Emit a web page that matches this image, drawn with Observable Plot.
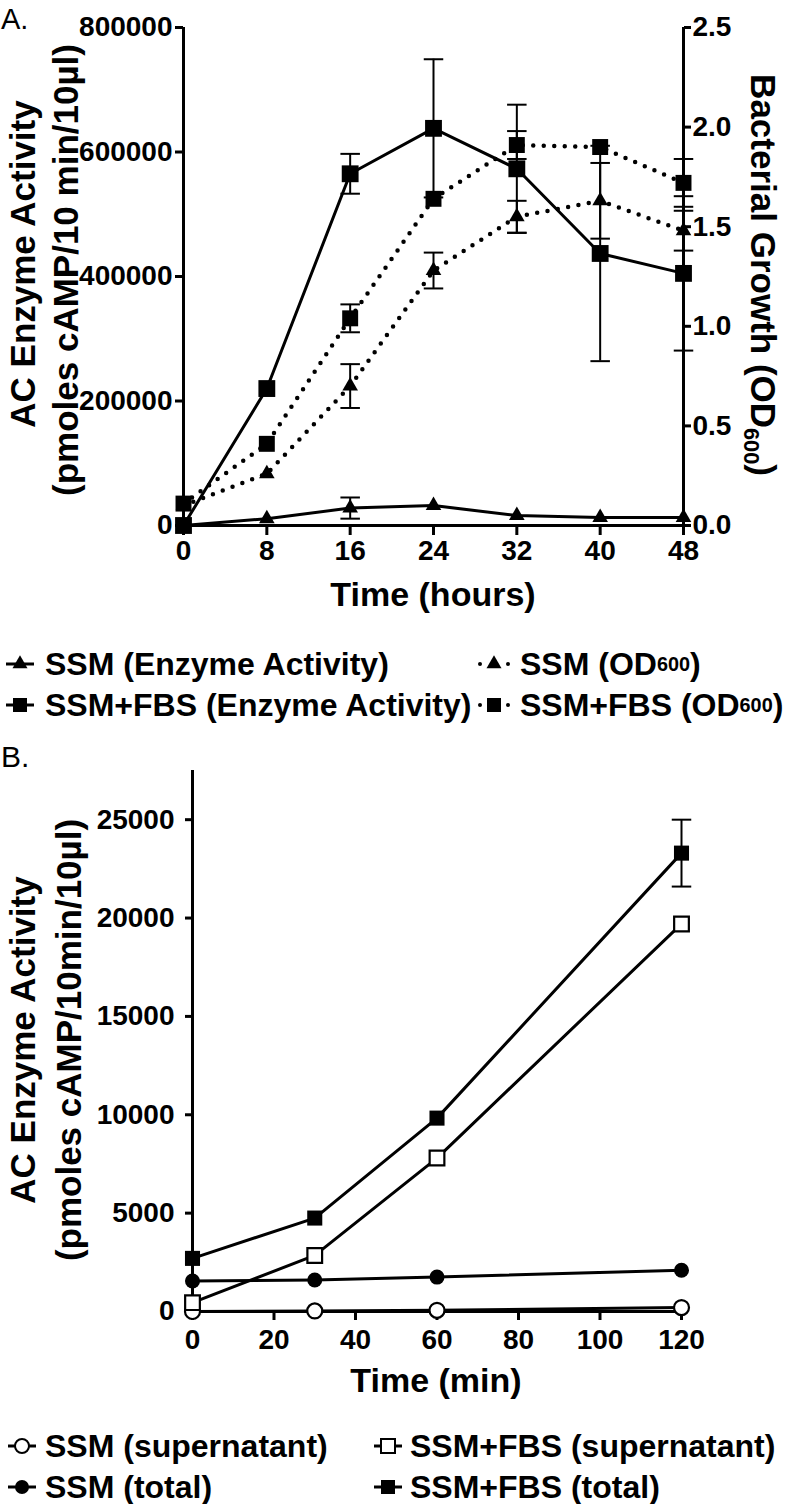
<!DOCTYPE html>
<html>
<head>
<meta charset="utf-8">
<script src="https://cdn.jsdelivr.net/npm/d3@7"></script>
<script src="https://cdn.jsdelivr.net/npm/@observablehq/plot@0.6"></script>
<style>
  html, body { margin: 0; padding: 0; background: white; }
  #root { position: relative; width: 800px; height: 1504px; overflow: hidden; background: white;
          font-family: "Liberation Sans", Arial, Helvetica, sans-serif; color: black; }
  .abs { position: absolute; white-space: nowrap; line-height: 1; }
  .rot { transform: translate(-50%, -50%) rotate(-90deg); font-weight: bold; font-size: 35px; }
  .rotR { transform: translate(-50%, -50%) rotate(90deg); font-weight: bold; font-size: 35px; }
  .ctr { transform: translate(-50%, -50%); font-weight: bold; font-size: 34px; }
  .leg { display: flex; align-items: center; font-weight: bold; font-size: 32px; transform: translateY(-50%); }
  .leg svg { display: block; margin-right: 0; }
  sub { font-size: 0.62em; vertical-align: -0.3em; line-height: 0; }
  .plotbox { position: absolute; left: 0; }
</style>
</head>
<body>
<div id="root"></div>
<script>
// ---------- Panel A data ----------
const hoursA = [0, 8, 16, 24, 32, 40, 48];
const ssmEnzyme    = [0, 11000, 28000, 32000, 16000, 13000, 13000];
const ssmEnzymeErr = [0, 0, 17000, 0, 0, 0, 0];
const fbsEnzyme    = [0, 220000, 565000, 638000, 573000, 437000, 405000];
const fbsEnzymeErr = [0, 0, 32000, 111000, 103000, 173000, 124000];
const ssmOD        = [0.10, 0.26, 0.70, 1.28, 1.55, 1.63, 1.48];
const ssmODErr     = [0, 0, 0.11, 0.09, 0.08, 0.19, 0.10];
const fbsOD        = [0.11, 0.41, 1.04, 1.64, 1.91, 1.90, 1.72];
const fbsODErr     = [0, 0, 0.07, 0, 0.07, 0, 0.12];
const enzymeTicksA = [0, 200000, 400000, 600000, 800000];
const odTicksA     = [0, 0.5, 1.0, 1.5, 2.0, 2.5];

// ---------- Panel B data ----------
const minutesB   = [0, 30, 60, 120];
const ssmSup     = [0, 30, 60, 200];
const ssmTotal   = [1550, 1600, 1750, 2100];
const fbsSup     = [450, 2850, 7800, 19700];
const fbsTotal   = [2700, 4750, 9830, 23300];
const fbsTotalErr= [0, 0, 0, 1700];
const yTicksB    = [0, 5000, 10000, 15000, 20000, 25000];
const xTicksB    = [0, 20, 40, 60, 80, 100, 120];

const FONT = "'Liberation Sans', Arial, Helvetica, sans-serif";
const K = 800000 / 2.5; // OD600 right-axis -> left-axis units

const rowsOf = (xs, vs, es, scale = 1) =>
  xs.map((x, i) => ({x, v: vs[i] * scale, e: (es ? es[i] : 0) * scale}));

const capSymbol = {
  draw(ctx, size) { const w = Math.sqrt(size); ctx.moveTo(-w / 2, 0); ctx.lineTo(w / 2, 0); }
};

function errMarks(rows, capR) {
  const withErr = rows.filter(d => d.e > 0);
  const caps = withErr.flatMap(d => [{x: d.x, y: d.v - d.e}, {x: d.x, y: d.v + d.e}]);
  return [
    Plot.ruleX(withErr, {x: "x", y1: d => d.v - d.e, y2: d => d.v + d.e, stroke: "black", strokeWidth: 2}),
    Plot.dot(caps, {x: "x", y: "y", symbol: capSymbol, r: capR, stroke: "black", strokeWidth: 2, fill: "none"})
  ];
}

const styleStr = `font-family: ${FONT}; font-size: 28px; font-weight: bold; background: white; overflow: visible; max-width: none; color: black;`;

// ---------- Panel A ----------
const aSsmE = rowsOf(hoursA, ssmEnzyme, ssmEnzymeErr);
const aFbsE = rowsOf(hoursA, fbsEnzyme, fbsEnzymeErr);
const aSsmO = rowsOf(hoursA, ssmOD, ssmODErr, K);
const aFbsO = rowsOf(hoursA, fbsOD, fbsODErr, K);

const dotted = {stroke: "black", strokeWidth: 4.5, strokeDasharray: "0 10.5", strokeLinecap: "round"};
const solid = {stroke: "black", strokeWidth: 3};

const plotA = Plot.plot({
  width: 800, height: 620,
  marginTop: 27, marginBottom: 95, marginLeft: 183, marginRight: 117,
  x: {domain: [0, 48]},
  y: {domain: [0, 800000]},
  style: styleStr,
  marks: [
    Plot.axisX({ticks: hoursA, tickFormat: d => String(d), tickSize: 10, tickPadding: 5, strokeWidth: 3, label: null}),
    Plot.axisY({anchor: "left", ticks: enzymeTicksA, tickFormat: d => String(d), tickSize: 8, tickPadding: 3, strokeWidth: 3, label: null}),
    Plot.axisY({anchor: "right", ticks: odTicksA.map(v => v * K), tickFormat: d => (d / K).toFixed(1), tickSize: 7, tickPadding: 2, strokeWidth: 3, label: null}),
    Plot.ruleX([0], {strokeWidth: 3}),
    Plot.ruleX([48], {strokeWidth: 3}),
    Plot.ruleY([0], {strokeWidth: 3}),
    Plot.line(aSsmO, {x: "x", y: "v", ...dotted}),
    Plot.line(aFbsO, {x: "x", y: "v", ...dotted}),
    Plot.line(aSsmE, {x: "x", y: "v", ...solid}),
    Plot.line(aFbsE, {x: "x", y: "v", ...solid}),
    ...errMarks(aSsmO, 11),
    ...errMarks(aFbsO, 11),
    ...errMarks(aSsmE, 11),
    ...errMarks(aFbsE, 11),
    Plot.dot(aSsmO, {x: "x", y: "v", symbol: "triangle", r: 5.8, fill: "black"}),
    Plot.dot(aFbsO, {x: "x", y: "v", symbol: "square", r: 9, fill: "black"}),
    Plot.dot(aSsmE, {x: "x", y: "v", symbol: "triangle", r: 5.8, fill: "black"}),
    Plot.dot(aFbsE, {x: "x", y: "v", symbol: "square", r: 9.5, fill: "black"})
  ]
});

// ---------- Panel B ----------
const bSsmSup = rowsOf(minutesB, ssmSup);
const bSsmTot = rowsOf(minutesB, ssmTotal);
const bFbsSup = rowsOf(minutesB, fbsSup);
const bFbsTot = rowsOf(minutesB, fbsTotal, fbsTotalErr);

const plotB = Plot.plot({
  width: 800, height: 660,
  marginTop: 30, marginBottom: 89, marginLeft: 192, marginRight: 119,
  x: {domain: [0, 120]},
  y: {domain: [0, 27500]},
  style: styleStr,
  marks: [
    Plot.axisX({ticks: xTicksB, tickFormat: d => String(d), tickSize: 9, tickPadding: 9, strokeWidth: 3, label: null}),
    Plot.axisY({anchor: "left", ticks: yTicksB, tickFormat: d => String(d), tickSize: 7, tickPadding: 11, strokeWidth: 3, label: null}),
    Plot.ruleX([0], {strokeWidth: 3}),
    Plot.ruleY([0], {strokeWidth: 3}),
    Plot.line(bSsmSup, {x: "x", y: "v", ...solid}),
    Plot.line(bSsmTot, {x: "x", y: "v", ...solid}),
    Plot.line(bFbsSup, {x: "x", y: "v", ...solid}),
    Plot.line(bFbsTot, {x: "x", y: "v", ...solid}),
    ...errMarks(bFbsTot, 11),
    Plot.dot(bSsmSup, {x: "x", y: "v", symbol: "circle", r: 7.5, fill: "white", stroke: "black", strokeWidth: 2.2}),
    Plot.dot(bSsmTot, {x: "x", y: "v", symbol: "circle", r: 7.5, fill: "black"}),
    Plot.dot(bFbsSup, {x: "x", y: "v", symbol: "square", r: 8.3, fill: "white", stroke: "black", strokeWidth: 2.2}),
    Plot.dot(bFbsTot, {x: "x", y: "v", symbol: "square", r: 8.5, fill: "black"})
  ]
});

// ---------- Assemble ----------
const root = document.getElementById("root");
function place(el, top) {
  const d = document.createElement("div");
  d.className = "plotbox";
  d.style.top = top + "px";
  d.appendChild(el);
  root.appendChild(d);
}
place(plotA, 0);
place(plotB, 740);

function addText(html, cls, x, y, extra) {
  const d = document.createElement("div");
  d.className = "abs " + cls;
  d.style.left = x + "px";
  d.style.top = y + "px";
  if (extra) Object.assign(d.style, extra);
  d.innerHTML = html;
  root.appendChild(d);
  return d;
}

// panel letters
addText("A.", "", 1, 5, {fontSize: "29px"});
addText("B.", "", 1, 742, {fontSize: "30px"});

// Panel A axis titles
addText("AC Enzyme Activity", "rot", 22, 264);
addText("(pmoles cAMP/10 min/10µl)", "rot", 65, 270);
addText("Bacterial Growth (OD<sub>600</sub>)", "rotR", 763, 275);
addText("Time (hours)", "ctr", 433, 594);

// Panel B axis titles
addText("AC Enzyme Activity", "rot", 22, 1040);
addText("(pmoles cAMP/10min/10µl)", "rot", 68, 1040);
addText("Time (min)", "ctr", 436, 1380);

// Legend symbols
function sym(kind, marker, filled) {
  const w = 34, h = 24, cy = h / 2, cx = w / 2;
  let line;
  if (kind === "dotted") {
    line = `<circle cx="3" cy="${cy}" r="2" fill="black"/><circle cx="${w - 3}" cy="${cy}" r="2" fill="black"/>`;
  } else {
    line = `<line x1="3" y1="${cy}" x2="${w - 3}" y2="${cy}" stroke="black" stroke-width="3"/>`;
  }
  let m = "";
  const fill = filled ? "black" : "white";
  if (marker === "triangle") {
    const s = 15, hh = s * Math.sqrt(3) / 2;
    m = `<polygon points="${cx},${cy - hh * 2 / 3} ${cx - s / 2},${cy + hh / 3} ${cx + s / 2},${cy + hh / 3}" fill="black"/>`;
  } else if (marker === "square") {
    const s = 14;
    m = `<rect x="${cx - s / 2}" y="${cy - s / 2}" width="${s}" height="${s}" fill="${fill}" stroke="black" stroke-width="${filled ? 0 : 2}"/>`;
  } else if (marker === "circle") {
    m = `<circle cx="${cx}" cy="${cy}" r="7" fill="${fill}" stroke="black" stroke-width="${filled ? 0 : 2}"/>`;
  }
  return `<svg width="${w}" height="${h}" viewBox="0 0 ${w} ${h}">${line}${m}</svg>`;
}
function legendItem(symHtml, label, xSym, xText, y) {
  addText(symHtml, "", xSym - 17, y - 12);
  addText(label, "leg", xText, y);
}

// Legend A
legendItem(sym("solid", "triangle", true), "SSM (Enzyme Activity)", 20, 45, 664);
legendItem(sym("dotted", "triangle", true), "SSM (OD<sub>600</sub>)", 494, 520, 664);
legendItem(sym("solid", "square", true), "SSM+FBS (Enzyme Activity)", 20, 45, 705);
legendItem(sym("dotted", "square", true), "SSM+FBS (OD<sub>600</sub>)", 494, 520, 705);

// Legend B
legendItem(sym("solid", "circle", false), "SSM (supernatant)", 22, 45, 1446);
legendItem(sym("solid", "square", false), "SSM+FBS (supernatant)", 388, 410, 1446);
legendItem(sym("solid", "circle", true), "SSM (total)", 22, 45, 1487);
legendItem(sym("solid", "square", true), "SSM+FBS (total)", 388, 410, 1487);
</script>
</body>
</html>
